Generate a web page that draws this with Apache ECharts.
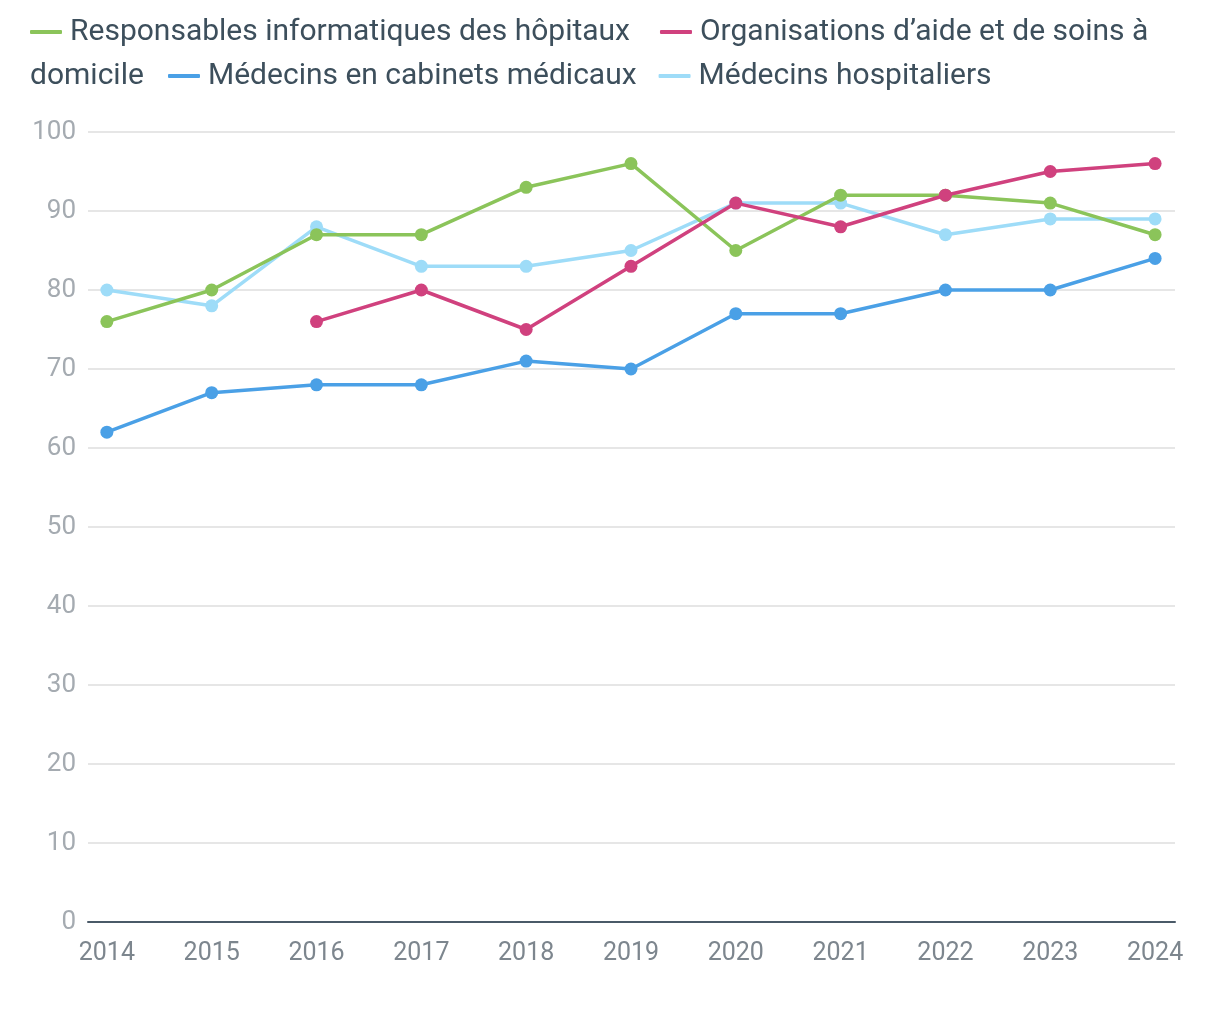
<!DOCTYPE html>
<html><head><meta charset="utf-8">
<script src="https://cdn.jsdelivr.net/npm/echarts@6/dist/echarts.min.js"></script>
<style>html,body{margin:0;padding:0;background:#fff}#c{width:1220px;height:1020px}</style>
</head><body><div id="c"></div>
<script>
const years = [2014, 2015, 2016, 2017, 2018, 2019, 2020, 2021, 2022, 2023, 2024];
const yTicks = [0, 10, 20, 30, 40, 50, 60, 70, 80, 90, 100];
const nameGreen = 'Responsables informatiques des hôpitaux';
const nameMagenta = 'Organisations d’aide et de soins à domicile';
const nameBlue = 'Médecins en cabinets médicaux';
const nameLight = 'Médecins hospitaliers';
const valGreen = [76, 80, 87, 87, 93, 96, 85, 92, 92, 91, 87];
const valMagenta = [null, null, 76, 80, 75, 83, 91, 88, 92, 95, 96];
const valBlue = [62, 67, 68, 68, 71, 70, 77, 77, 80, 80, 84];
const valLight = [80, 78, 88, 83, 83, 85, 91, 91, 87, 89, 89];

const FONT = 'Roboto';
const pairs = v => years.map((y, i) => [y, v[i] == null ? '-' : v[i]]);
function ser(name, vals, color, z) {
  return {
    name, type: 'line', data: pairs(vals), z,
    symbol: 'circle', symbolSize: 13,
    lineStyle: { width: 3.5, color }, itemStyle: { color },
    emphasis: { disabled: true }, animation: false
  };
}
const legendCommon = {
  icon: 'roundRect', itemWidth: 32, itemHeight: 4, itemGap: 22,
  textStyle: { fontFamily: FONT, fontSize: 30, color: '#3d4f5c', padding: [0, 0, 0, 3] },
  selectedMode: false
};
const chart = echarts.init(document.getElementById('c'));
chart.setOption({
  animation: false,
  legend: [
    Object.assign({}, legendCommon, {
      left: 25, top: 12, itemGap: 30, data: [nameGreen, nameMagenta],
      formatter: n => n === nameMagenta ? 'Organisations d’aide et de soins à' : n
    }),
    Object.assign({}, legendCommon, {
      left: 163, top: 56, data: [nameBlue, nameLight]
    })
  ],
  graphic: [{
    type: 'text', left: 30, top: 61,
    style: { text: 'domicile', font: '30px ' + FONT, fill: '#3d4f5c' }
  }],
  grid: { left: 88, right: 45, top: 132, bottom: 98 },
  xAxis: {
    type: 'value', min: 2013.82, max: 2024.19,
    splitLine: { show: false },
    axisLine: { show: true, lineStyle: { color: '#4a5a68', width: 2 } },
    axisTick: { show: false },
    axisLabel: {
      customValues: years, formatter: v => String(v),
      fontFamily: FONT, fontSize: 25, color: '#7d868e', margin: 19
    }
  },
  yAxis: {
    type: 'value', min: 0, max: 100, interval: 10,
    axisLine: { show: false }, axisTick: { show: false },
    splitLine: { lineStyle: { color: '#e6e6e6', width: 2 } },
    axisLabel: {
      customValues: yTicks,
      fontFamily: FONT, fontSize: 26, color: '#a5abb1', margin: 12
    }
  },
  series: [
    ser(nameGreen, valGreen, '#8bc45a', 4),
    ser(nameMagenta, valMagenta, '#d0417e', 5),
    ser(nameBlue, valBlue, '#4aa0e6', 3),
    ser(nameLight, valLight, '#9edcf8', 2)
  ]
});
</script></body></html>
